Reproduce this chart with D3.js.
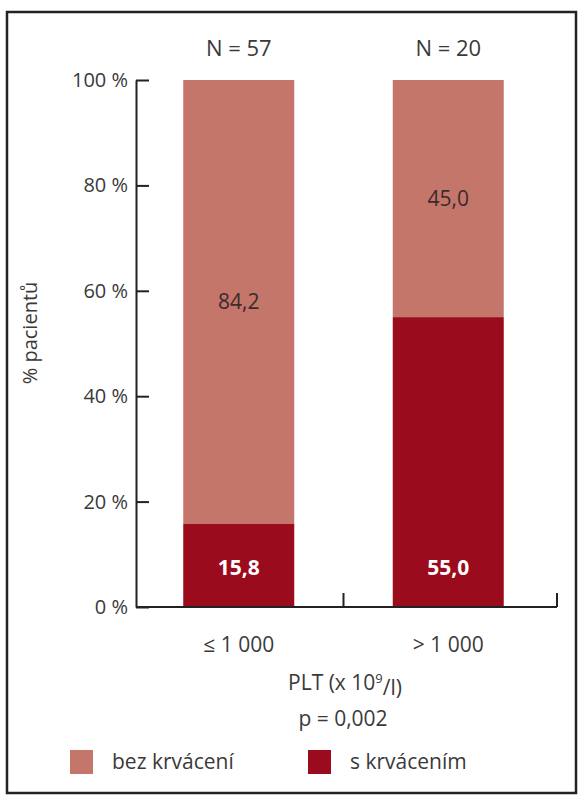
<!DOCTYPE html>
<html>
<head>
<meta charset="utf-8">
<script src="https://cdn.jsdelivr.net/npm/d3@7"></script>
<style>
  body { margin: 0; background: #fff; }
  text { font-family: "Open Sans", "Noto Sans", sans-serif; }
</style>
</head>
<body>
<script>
// data
var categories = ["≤ 1 000", "> 1 000"];
var groupN = ["N = 57", "N = 20"];
var sKrvacenim = [15.8, 55.0];      // dark, bottom
var bezKrvaceni = [84.2, 45.0];     // light, top
var yTicks = [0, 20, 40, 60, 80, 100];
var seriesNames = ["bez krvácení", "s krvácením"];

var colLight = "#c4766b",
    colDark = "#9a0b1e",
    txt = "#3a3a3a";

var width = 585, height = 800;

var svg = d3.select("body").append("svg")
    .attr("width", width)
    .attr("height", height);

// frame
svg.append("rect")
    .attr("x", 7).attr("y", 12)
    .attr("width", 569).attr("height", 781)
    .attr("fill", "#fff")
    .attr("stroke", "#222")
    .attr("stroke-width", 2.5);

var y = d3.scaleLinear().domain([0, 100]).range([607, 80]);
var x = d3.scaleBand().domain(categories).range([134, 553]).padding(0);
var barW = 111;

var rows = categories.map(function (c, i) {
  return { cat: c, n: groupN[i], dark: sKrvacenim[i], light: bezKrvaceni[i] };
});

// bars
var g = svg.append("g");
rows.forEach(function (d) {
  var cx = x(d.cat) + x.bandwidth() / 2;
  g.append("rect")
      .attr("x", cx - barW / 2)
      .attr("y", y(d.dark + d.light))
      .attr("width", barW)
      .attr("height", y(d.dark) - y(d.dark + d.light))
      .attr("fill", colLight);
  g.append("rect")
      .attr("x", cx - barW / 2)
      .attr("y", y(d.dark))
      .attr("width", barW)
      .attr("height", y(0) - y(d.dark))
      .attr("fill", colDark);

  // value labels
  g.append("text")
      .attr("x", cx)
      .attr("y", y(d.dark + d.light / 2))
      .attr("dy", "0.35em")
      .attr("text-anchor", "middle")
      .attr("font-size", 21)
      .attr("fill", "#3b2b2b")
      .text(d3.format(".1f")(d.light).replace(".", ","));
  g.append("text")
      .attr("x", cx)
      .attr("y", y(7.5))
      .attr("dy", "0.35em")
      .attr("text-anchor", "middle")
      .attr("font-size", 21)
      .attr("font-weight", "bold")
      .attr("fill", "#fff")
      .text(d3.format(".1f")(d.dark).replace(".", ","));

  // N labels
  g.append("text")
      .attr("x", cx)
      .attr("y", 48)
      .attr("dy", "0.35em")
      .attr("text-anchor", "middle")
      .attr("font-size", 22)
      .attr("fill", txt)
      .text(d.n);

  // category labels
  g.append("text")
      .attr("x", cx)
      .attr("y", 645)
      .attr("dy", "0.35em")
      .attr("text-anchor", "middle")
      .attr("font-size", 21)
      .attr("fill", txt)
      .text(d.cat);
});

// y axis (ticks inward)
var yAxis = svg.append("g")
    .attr("transform", "translate(136,0)")
    .call(d3.axisRight(y).tickValues(yTicks).tickSize(13).tickSizeOuter(0)
      .tickFormat(function (d) { return d + " %"; }));
yAxis.select(".domain").attr("stroke", "#222").attr("stroke-width", 2);
yAxis.selectAll(".tick line").attr("stroke", "#222").attr("stroke-width", 2);
yAxis.selectAll(".tick text")
    .attr("x", -8)
    .attr("text-anchor", "end")
    .attr("font-size", 20)
    .attr("font-family", "'Open Sans', 'Noto Sans', sans-serif")
    .attr("fill", txt);

// x axis line with upward ticks at band boundaries
var x0 = 136, x1 = 557;
svg.append("line")
    .attr("x1", x0).attr("x2", x1)
    .attr("y1", y(0)).attr("y2", y(0))
    .attr("stroke", "#222").attr("stroke-width", 2);
var bounds = [x(categories[1]), x1];
svg.selectAll(".xtick").data(bounds).enter().append("line")
    .attr("class", "xtick")
    .attr("x1", function (d) { return d; })
    .attr("x2", function (d) { return d; })
    .attr("y1", y(0)).attr("y2", y(0) - 14)
    .attr("stroke", "#222").attr("stroke-width", 2);

// y label
svg.append("text")
    .attr("transform", "translate(30,333) rotate(-90)")
    .attr("dy", "0.35em")
    .attr("text-anchor", "middle")
    .attr("font-size", 20)
    .attr("fill", txt)
    .text("% pacientů");

// x title + p value
var xt = svg.append("text")
    .attr("x", 345).attr("y", 683)
    .attr("dy", "0.35em")
    .attr("text-anchor", "middle")
    .attr("font-size", 21)
    .attr("fill", txt);
xt.append("tspan").text("PLT (x 10");
xt.append("tspan").attr("font-size", 13).attr("dy", "-0.6em").text("9");
xt.append("tspan").attr("dy", "0.6em").text("/l)");

svg.append("text")
    .attr("x", 343).attr("y", 719)
    .attr("dy", "0.35em")
    .attr("text-anchor", "middle")
    .attr("font-size", 21)
    .attr("fill", txt)
    .text("p = 0,002");

// legend
var legend = [
  { name: seriesNames[0], color: colLight, x: 70 },
  { name: seriesNames[1], color: colDark, x: 308 }
];
var lg = svg.selectAll(".leg").data(legend).enter().append("g")
    .attr("class", "leg")
    .attr("transform", function (d) { return "translate(" + d.x + ",762)"; });
lg.append("rect")
    .attr("x", 0).attr("y", -12)
    .attr("width", 23).attr("height", 24)
    .attr("fill", function (d) { return d.color; });
lg.append("text")
    .attr("x", 42)
    .attr("dy", "0.35em")
    .attr("font-size", 21)
    .attr("fill", txt)
    .text(function (d) { return d.name; });
</script>
</body>
</html>
